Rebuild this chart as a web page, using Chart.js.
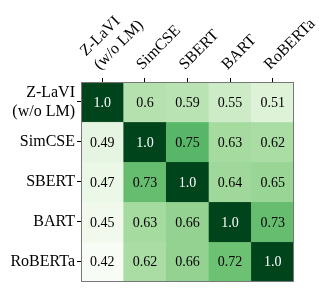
<!DOCTYPE html>
<html>
<head>
<meta charset="utf-8">
<script src="https://cdn.jsdelivr.net/npm/chart.js@4"></script>
<style>
  body { margin: 0; background: #fff; }
  #wrap { width: 327px; height: 303px; }
</style>
</head>
<body>
<div id="wrap"><canvas id="heat"></canvas></div>
<script>
// models, same order on both axes
var colLabels = [["Z-LaVI", "(w/o LM)"], "SimCSE", "SBERT", "BART", "RoBERTa"];
var rowLabels = [["Z-LaVI", "(w/o LM)"], "SimCSE", "SBERT", "BART", "RoBERTa"];

// similarity values, one array per row
var rowZlavi   = [1.0, 0.6, 0.59, 0.55, 0.51];
var rowSimcse  = [0.49, 1.0, 0.75, 0.63, 0.62];
var rowSbert   = [0.47, 0.73, 1.0, 0.64, 0.65];
var rowBart    = [0.45, 0.63, 0.66, 1.0, 0.73];
var rowRoberta = [0.42, 0.62, 0.66, 0.72, 1.0];
var rows = [rowZlavi, rowSimcse, rowSbert, rowBart, rowRoberta];

var vmin = 0.42, vmax = 1.0;

// matplotlib "Greens"
var greens = ["#f7fcf5", "#e5f5e0", "#c7e9c0", "#a1d99b", "#74c476", "#41ab5d", "#238b45", "#006d2c", "#00441b"];

function hexToRgb(h) {
    return [parseInt(h.substr(1, 2), 16), parseInt(h.substr(3, 2), 16), parseInt(h.substr(5, 2), 16)];
}
function colorRgb(v) {
    var t = (v - vmin) / (vmax - vmin);
    t = Math.max(0, Math.min(1, t));
    var p = t * (greens.length - 1);
    var i = Math.min(Math.floor(p), greens.length - 2);
    var f = p - i;
    var a = hexToRgb(greens[i]), b = hexToRgb(greens[i + 1]);
    return [0, 1, 2].map(function (k) { return Math.round(a[k] + (b[k] - a[k]) * f); });
}
function colorFor(v) {
    var c = colorRgb(v);
    return 'rgb(' + c[0] + ',' + c[1] + ',' + c[2] + ')';
}
function textColorFor(v) {
    var c = colorRgb(v);
    var lum = 0.299 * c[0] + 0.587 * c[1] + 0.114 * c[2];
    return lum < 110 ? '#ffffff' : '#000000';
}
function fmt(v) {
    return v === 1 ? '1.0' : String(v);
}

var datasets = [];
for (var r = 0; r < rows.length; r++) {
    datasets.push({
        data: rows[r].map(function () { return [r - 0.5, r + 0.5]; }),
        backgroundColor: rows[r].map(colorFor),
        borderColor: rows[r].map(colorFor),
        borderWidth: 0.5,
        borderSkipped: false,
        grouped: false,
        barPercentage: 1,
        categoryPercentage: 1
    });
}

var cellText = {
    id: 'cellText',
    afterDatasetsDraw: function (chart) {
        var ctx = chart.ctx;
        ctx.save();
        ctx.font = '14px "Liberation Serif", "Times New Roman", serif';
        ctx.textAlign = 'center';
        ctx.textBaseline = 'middle';
        for (var d = 0; d < rows.length; d++) {
            var meta = chart.getDatasetMeta(d);
            meta.data.forEach(function (el, i) {
                var p = el.getCenterPoint();
                ctx.fillStyle = textColorFor(rows[d][i]);
                ctx.fillText(fmt(rows[d][i]), p.x, p.y + 1);
            });
        }
        ctx.restore();
    }
};

var frame = {
    id: 'frame',
    afterDraw: function (chart) {
        var a = chart.chartArea, ctx = chart.ctx;
        ctx.save();
        ctx.strokeStyle = '#777777';
        ctx.lineWidth = 1;
        ctx.strokeRect(Math.round(a.left) + 0.5, Math.round(a.top) + 0.5, Math.round(a.right - a.left) - 1, Math.round(a.bottom - a.top) - 1);
        ctx.restore();
    }
};

var labelFont = { family: '"Liberation Serif", "Times New Roman", serif', size: 16 };

new Chart(document.getElementById('heat').getContext('2d'), {
    type: 'bar',
    data: { labels: colLabels, datasets: datasets },
    options: {
        responsive: true,
        maintainAspectRatio: false,
        animation: false,
        layout: { padding: { left: 0, top: 0, right: 33, bottom: 8 } },
        plugins: { legend: { display: false }, tooltip: { enabled: false } },
        scales: {
            x: {
                type: 'category',
                position: 'top',
                offset: true,
                grid: { offset: false, drawOnChartArea: false, drawTicks: true, tickLength: 4, color: '#000' },
                border: { display: false },
                ticks: { color: '#000', font: labelFont, minRotation: 45, maxRotation: 45, padding: 4, labelOffset: 8, autoSkip: false },
                afterFit: function (s) { s.height = 82; }
            },
            y: {
                type: 'linear',
                min: -0.5,
                max: 4.5,
                reverse: true,
                afterBuildTicks: function (s) { s.ticks = [0, 1, 2, 3, 4].map(function (v) { return { value: v }; }); },
                grid: { drawOnChartArea: false, drawTicks: true, tickLength: 4, color: '#000' },
                border: { display: false },
                ticks: {
                    color: '#000', font: labelFont, padding: 2,
                    callback: function (v) { return rowLabels[v]; }
                },
                afterFit: function (s) { s.width = 81; }
            }
        }
    },
    plugins: [cellText, frame]
});
</script>
</body>
</html>
